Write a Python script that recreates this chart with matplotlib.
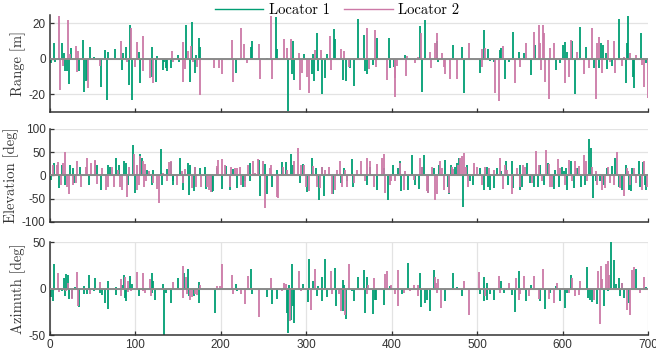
import numpy as np
import matplotlib
matplotlib.use("Agg")
import matplotlib.pyplot as plt

# ---------------------------------------------------------------
# Data: (sample index, error) for each locator

range_l1 = [(0.8, -2.5), (5.1, 8.8), (6.2, -2), (13.7, 9), (16.5, 3.5), (18, -7), (19.5, -7),
            (22.5, -14), (24.6, 6), (34.3, -7), (38.3, 10.7), (39.8, -18.4), (42.2, -12.6),
            (43.7, -12), (46.5, 6.5), (51.9, 1), (59.3, -16), (64.8, 5), (67.1, -23), (68.2, 4),
            (76.5, 5.5), (84.3, -6.5), (85.9, 3.2), (88.6, 6.5), (92.1, -14.6), (93.7, 19),
            (96, -23), (104.6, 3.7), (105.6, -13.7), (119, 7), (120, -10), (123.7, -13),
            (124.8, 1.7), (131.9, -6.2), (133.5, -1.7), (135.4, -5), (137, -7), (141.7, -5),
            (150.3, 2.4), (151.3, -2), (159.2, 19), (163.9, -12.8), (166.3, 21), (169.4, -7.7),
            (171, 2.2), (174.1, 12), (176, 6.5), (218.2, -8), (235, 7), (236, 10), (253.7, 0.4),
            (264.6, 23.7), (266.2, 5.4), (278.7, -29.3), (283.4, -8.4), (285, 10.3), (286, -12),
            (297.4, 2.6), (306.8, -8.4), (307.6, 2.6), (309.5, -12.2), (313, 14.5), (314, -6.8),
            (318.2, -20), (321.7, -11), (324, 2.8), (332.6, 16.7), (333.6, 11), (343.5, -12),
            (346.6, -12.4), (351.3, -5.3), (356, -15), (361.1, 22.3), (367.7, 13.5), (368.7, -7),
            (371.5, -8.4), (377.9, -3.4), (382.5, 11.6), (397, 11.6), (398, -5.3), (402.8, -4.3),
            (415.7, 2.2), (433.3, 18.6), (435.2, -18.4), (439.1, 22), (452.8, 10.3), (454, -1.5),
            (471.5, 7.9), (482.1, 7), (484.8, -19), (502.8, -7.7), (507.4, 16.3), (512.1, 5.4),
            (515.3, -1.1), (519.2, -1.7), (526.5, 5), (528, 6), (532, -11.5), (536.7, -2),
            (541.8, 15.4), (548.4, 4), (554.3, 3.6), (562.9, -9), (567.2, 7.9), (591.8, -6.2),
            (596.4, -2.4), (600.3, 7.9), (602.7, 9.8), (605, 4), (610.9, 10.3), (614.8, -20),
            (620.6, 17.8), (626.9, 7), (637, -5.3), (642.5, -5.3), (644.8, 9.2), (647.2, 7.9),
            (651.1, 3.6), (652, -5.8), (657.7, -4), (665.9, 22.5), (673.7, -13.7), (674.7, 9.2),
            (676.1, 24.2), (682.3, -10.3), (683.9, -16.5), (691.7, 14.5), (697.9, -2.4)]

range_l2 = [(10.5, 24), (11.5, -17.5), (15.6, -4), (21, 22), (23.8, 3), (30.4, 7.3), (32, -7.5),
            (33, 4.6), (45, -16.5), (58.5, -4), (82.7, 10), (89.8, -1.5), (94.5, 17.5),
            (99.1, -4.3), (102.3, 9.6), (108.5, 13), (109.5, -7), (116.7, -11), (121, -13.7),
            (142.5, 4.5), (144, -1.5), (155.3, 9.6), (156.3, -13), (158.5, -5.8), (161.6, 4.7),
            (164.9, 7.3), (167.8, -2), (172.5, -4.7), (175.2, -20.3), (192.4, -5.3), (198.3, -5.3),
            (201.8, -8.6), (213.5, 10.7), (214.5, -12.8), (223.3, 17.6), (227.6, 8.4),
            (231.1, -2.4), (245.1, 8.4), (246.1, -11.5), (259.2, 24.4), (260.2, -11.3),
            (274.4, 11), (277.1, 6), (281.8, 11), (292, 3.6), (293, -17.5), (294.7, -7.7),
            (301.3, -10.3), (303.7, -19.4), (310.3, 5), (317.5, 5), (327.9, 13), (329, -6),
            (340.4, 5.4), (344.3, 4.6), (349.8, -4.3), (370.8, 17.3), (373.6, -5.6),
            (380.6, 16.3), (381.6, -4.3), (395, -11.8), (403.3, -10.5), (404.4, -21.6),
            (406.4, -4), (416.5, -9.6), (417.7, 1.7), (427.4, -2.4), (431.3, 1.3), (434, 14.5),
            (445, 4), (446, -5.3), (450.9, 9.2), (453.5, 14.8), (458.7, 3.2), (461.4, -4.3),
            (462.6, -8.4), (468.4, -11.3), (476.2, -11.5), (489.9, 8.8), (505.5, 5.4),
            (506.2, -4.7), (509.4, 6), (521.1, -19), (525.8, -23.5), (530.1, 7.3), (544.5, -13.7),
            (550.4, -4.3), (557, 8.8), (566, 15.4), (571.8, 19), (573.8, 9.2), (574.6, -6.2),
            (577, 19), (578.2, 14.8), (579.7, -12.8), (583.6, -22.7), (585.5, 6), (590.2, 8.8),
            (603.3, -13.7), (607, -10), (609.7, 10.7), (616.7, 4), (624.5, -8.4), (630.8, -5.3),
            (634.3, 17.3), (638.6, -22.7), (640.2, 8.8), (643, 12.2), (645.5, -8), (653, 10.7),
            (655.8, -2), (660.4, 10.3), (661.2, -8), (669.4, -4), (671.4, 1.3), (679.2, 3.2),
            (686.2, 2.2), (693.2, -3.4), (695.6, -16), (699.5, -22)]

elev_l1 = [(1.2, -10), (5, 26), (10.5, -27), (13.7, 23), (17.6, -20), (23, 23), (27, 16), (28, -16),
           (35, 19), (46, -20), (54.6, 23), (59.3, -31), (68.3, 23), (70, 19), (76.9, 38), (81.2, 23),
           (86.7, 30), (89, 26), (91.3, -20), (96.8, 66), (99.5, -38), (105.4, 46), (107.3, 38),
           (113.2, 12), (119, -20), (120.6, 12), (129.6, 57), (131.5, -20), (136.6, 14), (141.3, 29),
           (143.6, -20), (144.5, -13), (152.2, 38), (155.3, -31), (161.2, 26), (163.3, -42),
           (164, 23), (168.6, -34), (169.4, 19), (175.6, 16), (181.5, 17), (182.7, -29),
           (189.7, -36), (191.3, -33), (196, 16), (201, -29), (205.7, 21), (210.8, -31),
           (214.7, 14), (218.6, -27), (226.4, -24), (228, -13), (233.8, -13), (234.2, 26),
           (244.3, 33), (245.9, -45), (251.4, 24), (254.5, -41), (259.6, -24), (265.4, 12),
           (271.7, 29), (276.3, 29), (281.8, 46), (284.9, 23), (292.7, -16), (296.2, 24),
           (300.5, -36), (306.8, 38), (311.5, 16), (315, -52), (318.2, 19), (320.9, -45),
           (331.8, -41), (340.4, -16), (344.3, 16), (347.4, -13), (353.7, 36), (355.2, -24),
           (362.3, 1), (370.8, -20), (374, 19), (382.6, -31), (390.4, 16), (395.8, -52),
           (401.3, 23), (407.5, 16), (409.1, 31), (410.7, -34), (418.5, -31), (423.5, 44),
           (426.7, -20), (431.7, -29), (435.2, 19), (437.2, 44), (441.9, -38), (448.9, 16),
           (454.8, 23), (462.6, 33), (465.3, -24), (466.8, -41), (469.2, 23), (474.3, 19),
           (476.2, 26), (478.6, 37), (483.3, -69), (488, 23), (491.5, -13), (494.6, -20),
           (503.5, 16), (507.4, -31), (511.4, 19), (512.9, -24), (515.3, -31), (519.2, -27),
           (523.1, 16), (527.7, 10), (533.2, 30), (535.5, -20), (540.2, 30), (541.8, -27),
           (549.6, 23), (550.5, -31), (552.3, -24), (558.2, 26), (562.1, -16), (566, -24),
           (571.4, -26), (573.8, 23), (577.7, -20), (582.4, 26), (589.4, -29), (591, 12),
           (595.7, -24), (598.8, 19), (601.1, 9), (603.8, 16), (605, -31), (610.1, 30),
           (612.8, -27), (616.7, 16), (621.8, -24), (626.5, -20), (631.2, 79), (633.1, 59),
           (635.5, -49), (638.6, -13), (644.1, -13), (648, -20), (651.9, 16), (657.7, 21),
           (661.6, 38), (665.5, -24), (669.4, -31), (674.5, 23), (677.2, -31), (680, -34),
           (681.1, 16), (688.9, 30), (690.9, -24), (694, 29), (696.3, -20), (697.9, -31)]

elev_l2 = [(3.9, 23), (7.8, 23), (10.1, 28), (12.5, -20), (14.8, 26), (17.6, 50), (19.5, -24),
           (22.2, -41), (27.3, -20), (30.8, -16), (32, 30), (36.3, -24), (42.2, 17), (43.7, 37),
           (47.6, 26), (52.3, 30), (53, 33), (55.4, -19), (60.9, 16), (65.6, -31), (68.3, -24),
           (72.2, 17), (75.3, -24), (79.6, 12), (81.6, -24), (84.7, -31), (90.2, -47), (92.9, 19),
           (98.4, 46), (101.5, 23), (102.3, -31), (104.6, -21), (105.5, 41), (109.3, 30),
           (110, -24), (111.5, 24), (112.8, -13), (115.5, 9), (121, -16), (125.7, -29),
           (127.2, -60), (131.9, 5), (136.6, -13), (139.7, 29), (142, 30), (148.3, -20),
           (154.2, 9), (155.7, -16), (158.5, 14), (165.9, -27), (170.2, 19), (171.3, -24),
           (177.2, -26), (183.5, -24), (185.8, -31), (188.1, -36), (195.2, 21), (197.1, 34),
           (201.8, 36), (205.3, 23), (210.4, -24), (212.3, 19), (217, 16), (219.5, 16),
           (222.5, 19), (224, -20), (228.7, -24), (231.8, 23), (237.3, 30), (239.7, 5),
           (243.5, 36), (249.8, 30), (251.8, -71), (257.6, 16), (259.2, 23), (265.4, -47),
           (267, -49), (272.4, 19), (277.1, 12), (285.5, 30), (290.8, 59), (293.5, 23),
           (297.4, 23), (299.8, -24), (303.7, -33), (308.4, 21), (312, -24), (316.2, -27),
           (318.5, 19), (322, 12), (326.3, 19), (329.9, -41), (333.4, -31), (335.7, 12),
           (339.6, 31), (341.6, -24), (345.5, 12), (348.2, -24), (355.8, -16), (359.1, 12),
           (363.8, 3), (364.6, 30), (368.9, -13), (371.5, 37), (375, 31), (378.7, -24),
           (383.3, 24), (388.4, 38), (391, 46), (392.3, -38), (398.2, -20), (399.7, -13),
           (404, -13), (409.9, 26), (413.8, -31), (415.7, 10), (425.5, -9), (433.3, 37),
           (436, 19), (440.8, -34), (441.9, -38), (447, 19), (450.9, -52), (452.8, -41),
           (455.9, 30), (458.7, 16), (461.4, -31), (466.5, -38), (470, 19), (471.5, 14),
           (477.4, 23), (480.1, 37), (481.7, 41), (484.5, 48), (487.2, 17), (489.5, -24),
           (496.5, 26), (499.6, 19), (505.5, -20), (508.6, 19), (513.3, 16), (519.8, 12),
           (527, 37), (530.1, -29), (532.4, 23), (534.8, 12), (540.6, -41), (546.5, 16),
           (550.4, -24), (554, 23), (556.2, 19), (564, -16), (569.1, 53), (571.8, 23),
           (575.8, -13), (580, 55), (583.6, 24), (585, -24), (587.5, -24), (594.1, 36),
           (597.2, 16), (603.1, -20), (607, 33), (611.5, -13), (614.8, 30), (615.8, 16),
           (618.7, 21), (624.5, 44), (627.5, 31), (628.4, -13), (634.3, 19), (639.5, 9),
           (640.2, -20), (645.6, -31), (646, -13), (649.9, -27), (652.5, 19), (655.8, -16),
           (659.7, -20), (663.4, 50), (667.5, -27), (671.4, -45), (675, 16), (676.8, 9),
           (678.4, -20), (683.1, 16), (686.2, -16), (692.4, -31), (695.6, 30), (698.7, -24)]

azim_l1 = [(0.8, -9), (3.9, -13), (5.1, 27), (13.7, -3), (16.8, 11), (17.6, -8), (18.7, 16),
           (20.7, 15), (22.6, -11), (25.4, -10), (29.3, 1.4), (34.3, -20), (39.4, 2.5),
           (40.2, -6), (43.3, -6), (46.1, 15), (51.5, -3), (52.7, 11), (58.2, -4.6), (60.9, -7),
           (64.8, -15), (67.5, -22), (68.4, 8), (76.9, 2), (77.7, -7), (84.7, 4), (87, 15),
           (87.8, -10), (89, -13), (94.1, 14), (96.4, 5), (104.6, -8), (119, 17), (119.8, -4.6),
           (121, 8), (123.3, -12), (131.9, 5), (133.9, -50), (135.8, -5), (141.7, -15),
           (150.3, 11), (157.3, 17), (162, 21), (162.8, -8), (169, -8), (174.1, -15), (175, 7),
           (193.2, -26), (218.2, 5), (219, -3), (235, 21), (236.9, -6), (253.7, -9),
           (259.6, -17), (265.4, -11), (277.1, -26), (278.7, -48), (279.5, 4), (281.8, -34),
           (283.8, 26), (284.9, -19), (285.7, -37), (296.6, 5), (302.1, -14), (302.9, 32),
           (308.4, 8.6), (313, -8), (313.8, 2.5), (318.2, 13), (319, -13), (321.7, 32),
           (324, -9), (333.4, 22), (334.5, -19), (342.7, 9), (343.3, -24), (344.7, 3.6),
           (346.6, -32.5), (353.7, -3), (356.4, -13), (361.1, 12), (367.7, 20), (368.5, -26),
           (370.8, 13), (377.9, -27), (380.2, -12), (381.8, -12), (391.1, -18), (398.2, 2.5),
           (411.8, -6), (418.5, 27.5), (433.3, 17), (434, -20), (439.1, -15), (441.1, -12),
           (445, -24), (449.7, 20), (462.9, -13.6), (471.5, 17), (476.2, 1.4), (482.1, -8),
           (502.8, -6), (507.4, 12), (508.2, -13), (511.4, 6), (512, -12), (515.3, -6),
           (519.2, -12), (528.1, 8), (530.9, -4.6), (540.6, -7), (544.5, -25), (548.4, 19),
           (556.6, -13.6), (562.9, 4), (573.8, -13.6), (579.7, -21.4), (585.5, -4.6),
           (591.8, 2.5), (597.2, -13), (602.3, -21), (605, -4.6), (609.7, 15), (628.4, 23),
           (629.2, -10), (632.3, -12), (634.3, -14), (640.2, -17), (648.7, -19), (652.6, -3),
           (656.5, 52.5), (660.4, 31), (662.8, 5), (665.5, 11), (666.7, -8), (669.4, 6),
           (672.2, -10), (677.6, -15), (686.2, 21), (697.9, 1.4)]

azim_l2 = [(10.1, 17), (11, -4), (19.3, -3), (21.3, 6), (26, -11), (32, 18), (33, -19),
           (46.8, -6), (58.2, 7), (82.7, 10), (83.5, -8), (88, 12), (91.3, 8.6), (92, -4),
           (94.8, -3), (102.3, 18), (108.5, 17), (109.3, -3), (110.8, -4.6), (117.1, 10),
           (117.9, -8), (144, 7), (155.3, 24), (156.1, -10), (159.6, 13), (160.4, -6),
           (163.9, -12), (166.7, -9), (169.7, -6), (171.7, -7), (176, 4), (195.2, 2.5),
           (199.1, 2.5), (201.8, 27), (213.5, 15), (214.3, -6), (223.3, -6), (228, -17),
           (231.5, 14), (245.1, -31), (259, 11), (271.7, -3), (274.4, 6), (276.3, 5),
           (281, -35), (291.6, 19), (293.9, -3), (305.6, -22.5), (309.9, 21), (329.1, 19),
           (329.9, -6), (338.4, -6), (340.4, -24), (345.3, -28), (349.8, 26), (371.5, -6),
           (372.3, 4), (379.5, 11), (392.7, 16), (395, 19), (399, 4), (404.4, -6), (406.8, 20),
           (407.6, -19), (413.8, -5), (421.6, -3), (425.5, 4), (430.2, 4), (431, -8),
           (450.4, 12), (452, 6), (452.8, -4.6), (454.2, 10), (457.5, -21), (484.8, 8),
           (489.9, -28.6), (501.6, 18), (509.4, -8), (525.8, 14), (526.6, -4.6), (537.5, 6),
           (545.2, 11), (549.1, -12), (550.4, -6), (555.1, 14), (560.1, -8), (566, 14),
           (571.8, -11), (577, 21), (583.6, -11), (589.4, -15), (593.3, 6), (607, -4.6),
           (611.3, 11), (614.8, -8), (618.7, -7), (620.6, 8.6), (637, -12), (641.7, 19),
           (643.3, -38), (644.8, 24), (646.4, 10), (651.1, 26), (653.2, 30), (654.2, 15),
           (670, 6), (675.3, -22.5), (679.2, -28), (681.5, 20), (683.9, 23), (690.1, -4.6),
           (694.8, 12)]

labels = ["Locator 1", "Locator 2"]
ylabels = ["Range [m]", "Elevation [deg]", "Azimuth [deg]"]
# ---------------------------------------------------------------

plt.rcParams['axes.unicode_minus'] = False
c1 = '#009E73'
c2 = '#CC79A7'
serif = 'cmr10'
tickfont = 'Liberation Sans'

fig = plt.figure(figsize=(6.56, 3.55), dpi=100)
boxes = [[0.076, 0.684, 0.912, 0.275],
         [0.076, 0.375, 0.912, 0.262],
         [0.076, 0.056, 0.912, 0.262]]

panels = [(range_l1, range_l2, (-30, 25), [-20, 0, 20]),
          (elev_l1, elev_l2, (-100, 100), [-100, -50, 0, 50, 100]),
          (azim_l1, azim_l2, (-50, 50), [-50, 0, 50])]

axes = []
for i, (d1, d2, ylim, yt) in enumerate(panels):
    ax = fig.add_axes(boxes[i])
    for d, c in ((d1, c1), (d2, c2)):
        x, v = np.array(d).T
        ax.vlines(x, 0, v, colors=c, lw=1.3, zorder=2)
    ax.axhline(0, color='#8a8a8a', lw=1.4, zorder=3)
    ax.set_xlim(0, 700)
    ax.set_ylim(*ylim)
    ax.set_yticks(yt)
    ax.set_xticks(range(0, 701, 100))
    ax.grid(True, axis='y', color='#e3e3e3', lw=0.9, zorder=0)
    if i == 2:
        ax.grid(True, axis='x', color='#e3e3e3', lw=0.9, zorder=0)
    else:
        ax.tick_params(axis='x', labelbottom=False)
    for s in ['top', 'right']:
        ax.spines[s].set_visible(False)
    for s in ['left', 'bottom']:
        ax.spines[s].set_color('#333333')
        ax.spines[s].set_linewidth(1.1)
    ax.tick_params(direction='in', length=3, width=0.9, colors='#333333',
                   labelsize=8.5, pad=3)
    for t in ax.get_xticklabels() + ax.get_yticklabels():
        t.set_fontfamily(tickfont)
    ax.set_ylabel(ylabels[i], fontfamily=serif, fontsize=10.5, color='#333333', labelpad=2)
    ax.set_axisbelow(True)
    axes.append(ax)

fig.align_ylabels(axes)

h1, = axes[0].plot([], [], color=c1, lw=1.0)
h2, = axes[0].plot([], [], color=c2, lw=1.0)
fig.legend([h1, h2], labels, loc='center', bbox_to_anchor=(0.514, 0.972), ncol=2,
           frameon=False, handlelength=3.3, columnspacing=1.0, handletextpad=0.4,
           prop={'family': serif, 'size': 10.5})

fig.savefig('out.png', dpi=100)
